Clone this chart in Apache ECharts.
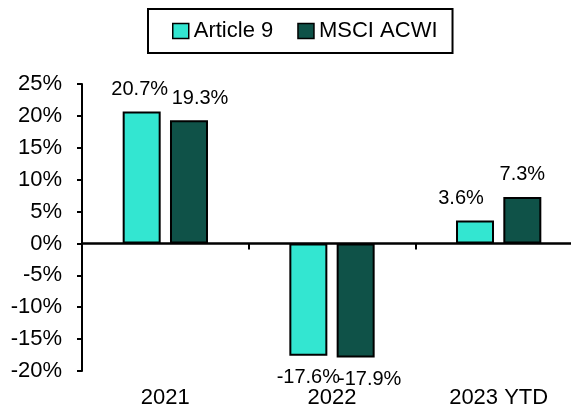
<!DOCTYPE html>
<html>
<head>
<meta charset="utf-8">
<script src="https://cdn.jsdelivr.net/npm/echarts@6/dist/echarts.min.js"></script>
<style>
  html, body { margin: 0; padding: 0; background: #fff; overflow: hidden; }
  /* the plot area runs a little past the right edge in the original,
     so the chart is a bit wider than the window and gets cropped */
  #chart { width: 582px; height: 409px; }
</style>
</head>
<body>
<div id="chart"></div>
<script>
const categories = ['2021', '2022', '2023 YTD']
const article9 = [20.7, -17.6, 3.6]
const msciAcwi = [19.3, -17.9, 7.3]
const yTicks = { min: -20, max: 25, interval: 5 }

// labels in the original were nudged sideways by hand
const labelShiftA = [-2, 0, -14]
const labelShiftB = [11, 14, 0]

const FONT = 'Liberation Sans, Arial, sans-serif'

function withLabels (values, shifts) {
  return values.map(function (v, i) {
    return {
      value: v,
      label: {
        position: v < 0 ? 'bottom' : 'top',
        offset: [shifts[i], 0]
      }
    }
  })
}

function genOption () {
  const barLabel = {
    show: true,
    distance: 12,
    color: '#000',
    fontSize: 20,
    fontFamily: FONT,
    formatter: function (p) {
      return p.value.toFixed(1) + '%'
    }
  }
  return {
    animation: false,
    legend: {
      left: 148,
      top: 9,
      padding: [11, 15, 11, 24],
      borderColor: '#000',
      borderWidth: 2,
      itemWidth: 16,
      itemHeight: 15,
      itemGap: 24,
      icon: 'rect',
      itemStyle: { borderColor: '#000', borderWidth: 1.5 },
      textStyle: { fontSize: 22, fontFamily: FONT, color: '#000' },
      data: ['Article 9', 'MSCI ACWI']
    },
    grid: {
      left: 82,
      right: 0,
      top: 84,
      bottom: 37,
      containLabel: false
    },
    xAxis: [
      {
        type: 'category',
        data: categories,
        axisLine: { onZero: true, lineStyle: { color: '#000', width: 2.5 } },
        axisTick: { show: true, length: 6, lineStyle: { color: '#000', width: 2 } },
        axisLabel: { show: false }
      },
      {
        type: 'category',
        data: categories,
        position: 'bottom',
        axisLine: { show: false, onZero: false },
        axisTick: { show: false },
        axisLabel: { margin: 16, fontSize: 22, fontFamily: FONT, color: '#000' }
      }
    ],
    yAxis: {
      type: 'value',
      min: yTicks.min,
      max: yTicks.max,
      interval: yTicks.interval,
      splitLine: { show: false },
      axisLine: { show: true, lineStyle: { color: '#000', width: 2 } },
      axisTick: { show: true, length: 5, lineStyle: { color: '#000', width: 2 } },
      axisLabel: { margin: 20, fontSize: 22, fontFamily: FONT, color: '#000', formatter: '{value}%' }
    },
    series: [
      {
        name: 'Article 9',
        type: 'bar',
        xAxisIndex: 0,
        barWidth: 38,
        barGap: '24.5%',
        data: withLabels(article9, labelShiftA),
        label: barLabel,
        itemStyle: { color: '#33E6D1', borderColor: '#000', borderWidth: 2 }
      },
      {
        name: 'MSCI ACWI',
        type: 'bar',
        xAxisIndex: 0,
        barWidth: 38,
        barGap: '24.5%',
        data: withLabels(msciAcwi, labelShiftB),
        label: barLabel,
        itemStyle: { color: '#0F5248', borderColor: '#000', borderWidth: 2 }
      }
    ]
  }
}

const chart = echarts.init(document.getElementById('chart'))
chart.setOption(genOption())
</script>
</body>
</html>
